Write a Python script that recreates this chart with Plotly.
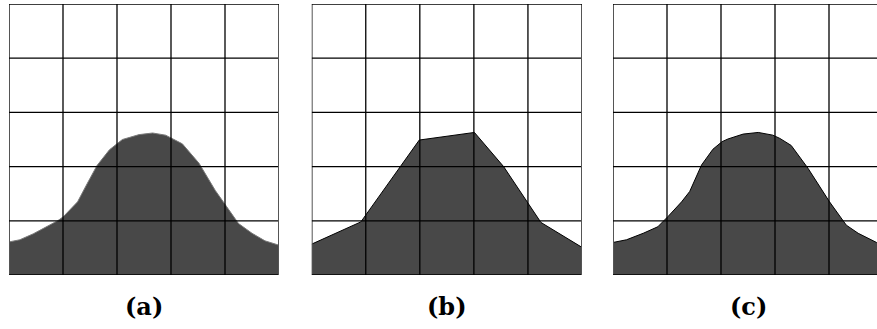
import plotly.graph_objects as go

# Panel (a): smooth true curve
a_x = [0, 0.2, 0.45, 0.71, 0.9, 1.0, 1.27, 1.45, 1.63, 1.86, 2.1, 2.41, 2.66, 2.9, 3.21, 3.52, 3.82, 4.01, 4.25, 4.5, 4.74, 5.0]
a_y = [0.61, 0.65, 0.76, 0.89, 1.0, 1.07, 1.35, 1.69, 2.02, 2.31, 2.50, 2.59, 2.62, 2.58, 2.42, 2.06, 1.56, 1.29, 0.95, 0.77, 0.63, 0.55]

# Panel (b): coarse piecewise-linear approximation
b_x = [0, 0.91, 1.99, 3.01, 3.55, 4.24, 5.0]
b_y = [0.57, 0.98, 2.49, 2.63, 2.0, 0.97, 0.51]

# Panel (c): finer piecewise-linear approximation
c_x = [0, 0.25, 0.56, 0.83, 1.02, 1.27, 1.42, 1.64, 1.85, 2.02, 2.13, 2.41, 2.69, 2.96, 3.09, 3.30, 3.61, 4.01, 4.32, 4.54, 4.88, 5.0]
c_y = [0.60, 0.65, 0.77, 0.89, 1.08, 1.35, 1.54, 2.03, 2.32, 2.46, 2.51, 2.60, 2.63, 2.58, 2.52, 2.39, 1.97, 1.35, 0.92, 0.77, 0.60, 0.55]

labels = ["(a)", "(b)", "(c)"]
grid_vals = [0, 1, 2, 3, 4, 5]

W, H = 877, 329
FILL = "#484848"

fig = go.Figure()

# (values, line colour, left px, right px, visible x max)
panels = [
    (a_x, a_y, "#7a7a7a", 9, 279, 5.0),
    (b_x, b_y, "#000000", 311.7, 582, 5.0),
    (c_x, c_y, "#000000", 613, 877, (877 - 613) / 54.0),
]

def px(xp):
    return xp / W

def py(yp):
    return (H - yp) / H

y_dom = [py(275), py(4)]

shapes = []
annotations = []
for i, (xs, ys, lc, x0, x1, xmax) in enumerate(panels):
    n = "" if i == 0 else str(i + 1)
    fig.add_trace(go.Scatter(
        x=xs, y=ys, mode="lines", fill="tozeroy", fillcolor=FILL,
        line=dict(color=lc, width=1), xaxis="x" + n, yaxis="y" + n,
        showlegend=False, hoverinfo="skip"))
    fig.update_layout(**{
        "xaxis" + n: dict(domain=[px(x0), min(px(x1), 1.0)], range=[0, xmax],
                          showgrid=False, zeroline=False, showticklabels=False,
                          ticks="", fixedrange=True, anchor="y" + n),
        "yaxis" + n: dict(domain=y_dom, range=[0, 5], anchor="x" + n,
                          showgrid=False, zeroline=False, showticklabels=False,
                          ticks="", fixedrange=True),
    })
    xr, yr = "x" + n, "y" + n
    for g in grid_vals:
        edge = g in (0, 5)
        shapes.append(dict(type="line", xref=xr, yref=yr, x0=g, x1=g, y0=0, y1=5,
                           line=dict(color="#555555" if edge else "#000000",
                                     width=2 if edge else 1.3), layer="above"))
        shapes.append(dict(type="line", xref=xr, yref=yr, x0=0, x1=5, y0=g, y1=g,
                           line=dict(color="#000000", width=1.3), layer="above"))
    annotations.append(dict(
        text="<b>" + labels[i] + "</b>", x=px(x0 + 135), y=py(306),
        xref="paper", yref="paper", showarrow=False, xanchor="center", yanchor="middle",
        font=dict(family="DejaVu Serif", size=24, color="#000000")))

fig.update_layout(
    width=W, height=H, margin=dict(l=0, r=0, t=0, b=0),
    paper_bgcolor="white", plot_bgcolor="white",
    shapes=shapes, annotations=annotations,
)

fig.write_html("out.html", config={"displayModeBar": False},
               post_script="document.body.style.margin='0';")
